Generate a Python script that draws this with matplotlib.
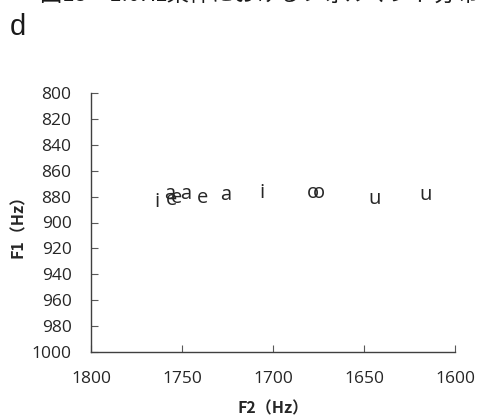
import matplotlib
matplotlib.use("Agg")
import matplotlib.pyplot as plt

# Data (F2, F1) for each vowel label
vowels = ["i", "a", "e", "e", "a", "e", "a", "i", "o", "o", "u", "u"]
f2_values = [1764, 1757, 1756, 1753, 1748, 1739, 1726, 1706, 1678, 1675, 1644, 1616]
f1_values = [884, 878, 883, 881, 878, 881, 879, 877, 877, 877, 882, 879]

x_ticks = [1800, 1750, 1700, 1650, 1600]
y_ticks = [800, 820, 840, 860, 880, 900, 920, 940, 960, 980, 1000]

fig = plt.figure(figsize=(4.78, 4.16), dpi=100)
ax = fig.add_axes([91/478, 1-352/416, (455-91)/478, (352-93)/416])

for v, x, y in zip(vowels, f2_values, f1_values):
    ax.text(x, y, v, ha="center", va="center", fontsize=14.5,
            family="Open Sans", color="#262626")

ax.set_xlim(1800, 1600)
ax.set_ylim(1000, 800)
ax.set_xticks(x_ticks)
ax.set_yticks(y_ticks)
ax.set_xticklabels([str(t) for t in x_ticks])
ax.set_yticklabels([str(t) for t in y_ticks])

for s in ["top", "right"]:
    ax.spines[s].set_visible(False)
for s in ["left", "bottom"]:
    ax.spines[s].set_color("#404040")
    ax.spines[s].set_linewidth(1.0)

ax.tick_params(axis="both", direction="in", length=5, width=0.8,
               color="#595959", labelsize=12.5, labelcolor="#262626")
ax.tick_params(axis="y", pad=14)
ax.tick_params(axis="x", pad=14)
for lab in ax.get_xticklabels() + ax.get_yticklabels():
    lab.set_family("Open Sans")

ax.set_xlabel("F2（Hz）", fontsize=11.5, fontweight="bold",
              family=["Noto Sans CJK JP", "DejaVu Sans"], color="#262626", labelpad=9)
ax.set_ylabel("F1（Hz）", fontsize=11.5, fontweight="bold",
              family=["Noto Sans CJK JP", "DejaVu Sans"], color="#262626", labelpad=4)

fig.text(10/478, 1-35/416, "d", fontsize=21, family="Liberation Sans",
         va="baseline", ha="left", color="#1a1a1a")
fig.text(40/478, 1-1/416, "図13　1.0Hz条件におけるフォルマント分布", fontsize=16,
         family=["Noto Sans CJK JP", "DejaVu Sans"], va="baseline", ha="left",
         color="#1a1a1a")

fig.savefig("out.png", dpi=100)
